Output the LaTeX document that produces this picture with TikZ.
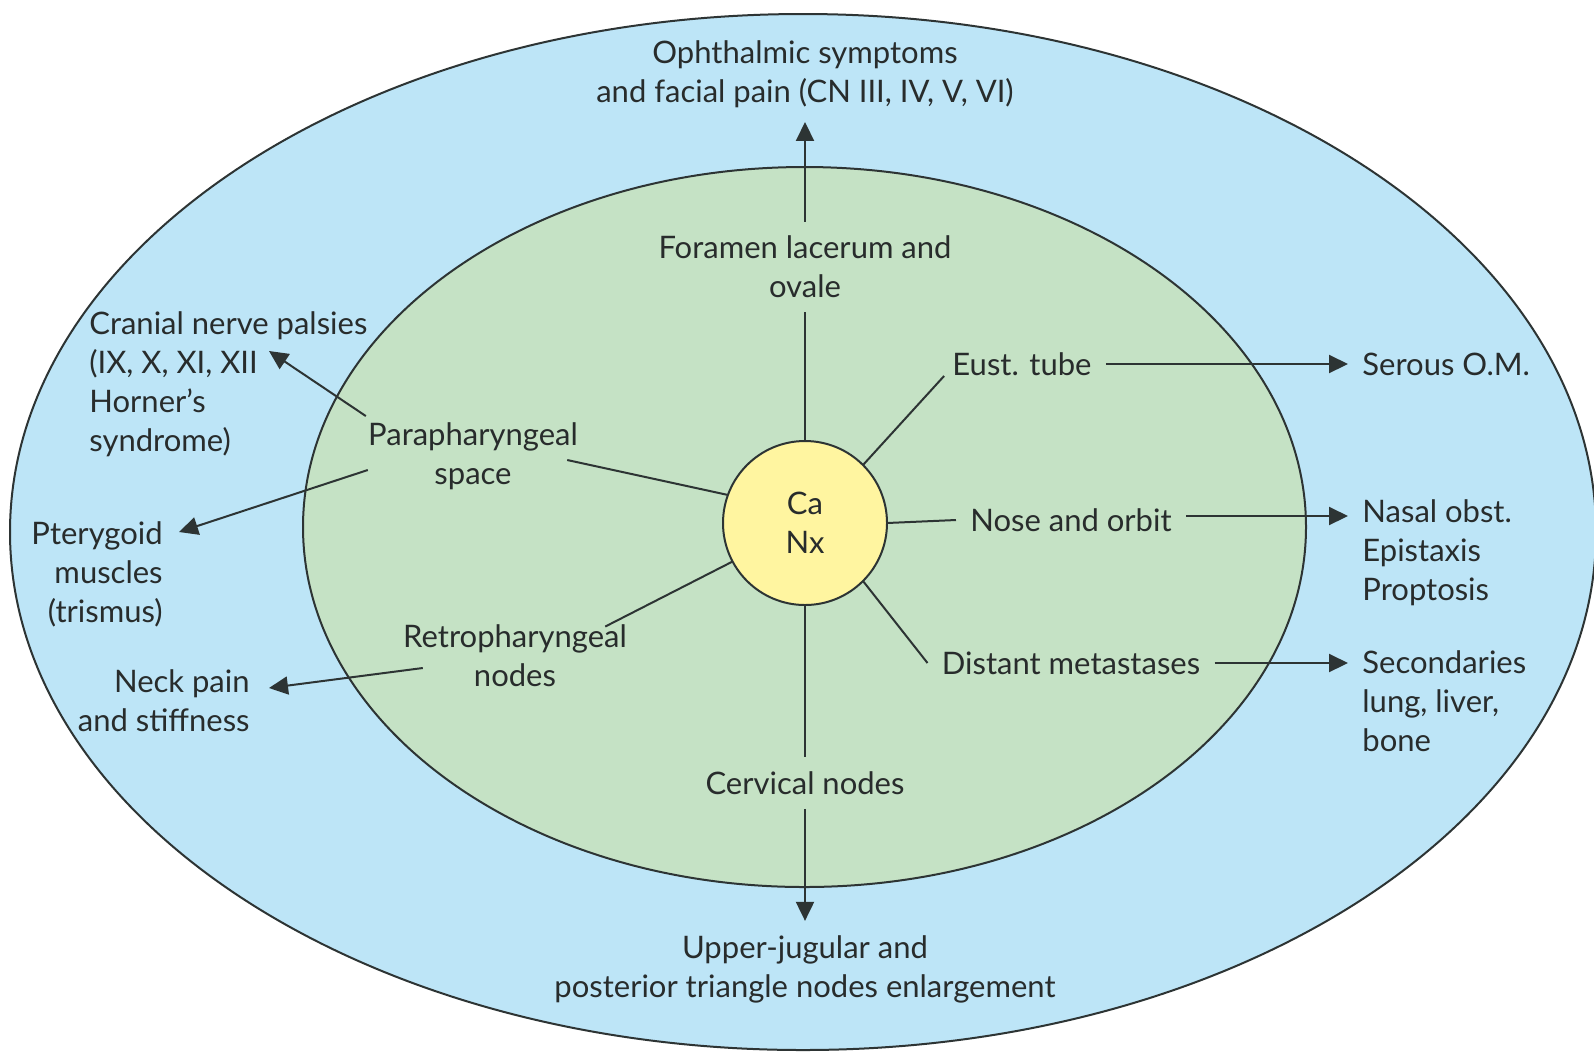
\documentclass[tikz,border=0pt]{standalone}
\usepackage{fontspec}
\setmainfont{Lato}
\usetikzlibrary{shapes.geometric,arrows.meta}
\definecolor{outerblue}{RGB}{189,229,247}
\definecolor{innergreen}{RGB}{197,226,197}
\definecolor{coreyellow}{RGB}{255,245,160}
\definecolor{edge}{RGB}{45,52,52}
\definecolor{txt}{RGB}{40,44,44}
\begin{document}
\begin{tikzpicture}[x=0.5pt,y=-0.5pt,
  lbl/.style={inner sep=7pt, text=txt, font=\fontsize{15.5}{19.5}\selectfont, align=center},
  ln/.style={draw=edge, line width=1pt},
  arr/.style={ln, -{Triangle[length=9.5pt,width=9pt]}},
  outerE/.style={ellipse, draw=edge, line width=1pt, fill=outerblue, minimum width=793pt, minimum height=518pt, inner sep=0pt, outer sep=0pt},
  innerE/.style={ellipse, draw=edge, line width=1pt, fill=innergreen, minimum width=501.5pt, minimum height=360pt, inner sep=0pt, outer sep=0pt},
  core/.style={circle, draw=edge, line width=1pt, fill=coreyellow, minimum size=82pt, inner sep=0pt, outer sep=0pt, text=txt, font=\fontsize{15.5}{19.5}\selectfont, align=center}]
\useasboundingbox (0,0) rectangle (1594,1056);
\fill[white] (0,0) rectangle (1594,1056);
\node[outerE] (outer) at (803,532) {};
\node[innerE] (inner) at (804.5,527) {};
\node[core] (canx) at (805,523) {Ca\\Nx};

\node[lbl] (oph) at (805,74) {Ophthalmic symptoms\\and facial pain (CN III, IV, V, VI)};
\node[lbl] (foramen) at (805,267) {Foramen lacerum and\\ovale};
\node[lbl] (eust) at (1022,364) {Eust. tube};
\node[lbl,anchor=west] (serous) at (1348,364) {Serous O.M.};
\node[lbl] (nose) at (1071,520) {Nose and orbit};
\node[lbl,anchor=west,align=left] (nasal) at (1348,553) {Nasal obst.\\Epistaxis\\Proptosis};
\node[lbl] (dist) at (1071,663) {Distant metastases};
\node[lbl,anchor=west,align=left] (sec) at (1348,701) {Secondaries\\lung, liver,\\bone};
\node[lbl] (cerv) at (805,783) {Cervical nodes};
\node[lbl] (upper) at (805,969) {Upper-jugular and\\posterior triangle nodes enlargement};
\node[lbl] (para) at (473,456) {Parapharyngeal\\space};
\node[lbl] (retro) at (515,656) {Retropharyngeal\\nodes};
\node[lbl,anchor=west,align=left] (cran) at (75,384) {Cranial nerve palsies\\(IX, X, XI, XII\\Horner’s\\syndrome)};
\node[lbl,anchor=east,align=right] (pter) at (177,574) {Pterygoid\\muscles\\(trismus)};
\node[lbl,anchor=east,align=right] (neck) at (264,701) {Neck pain\\and stiffness};

\draw[ln] (canx.north) -- (foramen.south);
\draw[arr] (foramen.north) -- (oph.south);
\draw[ln] (canx.45) -- ([xshift=3pt,yshift=-6pt]eust.west);
\draw[arr] (eust.east) -- (eust.east -| serous.west);
\draw[ln] (canx.east) -- (nose.west);
\draw[arr] ([yshift=2pt]nose.east) -- ([yshift=2pt]nose.east -| nasal.west);
\draw[ln] (canx.-45) -- (dist.west);
\draw[arr] (dist.east) -- (dist.east -| sec.west);
\draw[ln] (canx.south) -- (cerv.north);
\draw[arr] (cerv.south) -- (upper.north);
\draw[ln] (canx.160) -- ([xshift=-12.5pt,yshift=-2pt]para.east);
\draw[arr] ([xshift=6pt,yshift=-4pt]para.north west) -- ([xshift=97pt,yshift=16.5pt]cran.west);
\draw[arr] ([xshift=7pt,yshift=-7pt]para.west) -- ([xshift=1pt,yshift=21pt]pter.east);
\draw[ln] (canx.208) -- ([xshift=-18pt,yshift=-8pt]retro.north east);
\draw[arr] ([xshift=17pt,yshift=-6pt]retro.west) -- ([xshift=2.5pt,yshift=6.5pt]neck.east);
\end{tikzpicture}
\end{document}
